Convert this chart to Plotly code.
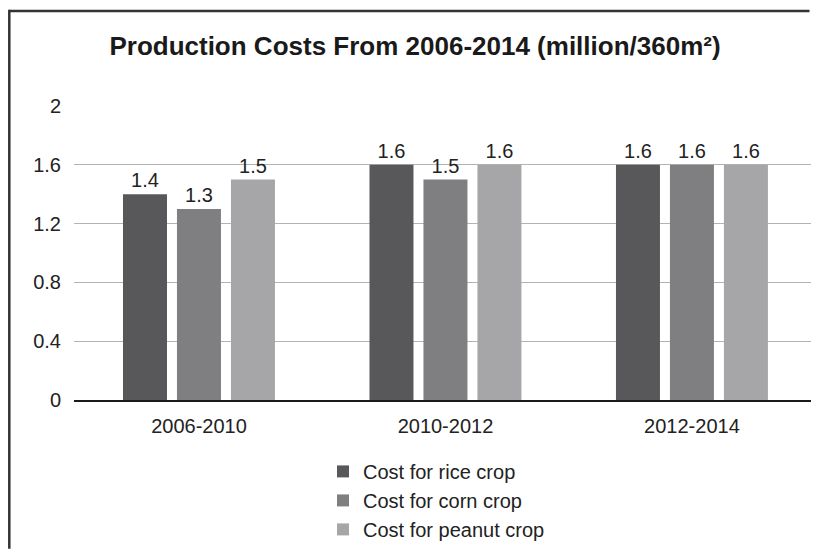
import plotly.graph_objects as go

categories = ["2006-2010", "2010-2012", "2012-2014"]
rice = [1.4, 1.6, 1.6]
corn = [1.3, 1.5, 1.6]
peanut = [1.5, 1.6, 1.6]
series_names = ["Cost for rice crop", "Cost for corn crop", "Cost for peanut crop"]
series_colors = ["#58585b", "#7f7f82", "#a6a6a9"]
y_ticks = [0, 0.4, 0.8, 1.2, 1.6, 2]
y_tick_labels = ["0", "0.4", "0.8", "1.2", "1.6", "2"]
title_text = "Production Costs From 2006-2014 (million/360m²)"

OFF = 8  # page body margin
W, H = 819 - 2 * OFF, 557 - 2 * OFF
# plot area in reference pixel coords
L, R, T, B = 74, 811, 105.5, 400
Lf, Rf, Tf, Bf = L - OFF, R - OFF, T - OFF, B - OFF
pw, ph = Rf - Lf, Bf - Tf

def px(x):
    return (x - OFF - Lf) / pw

def py(y):
    return (Bf - (y - OFF)) / ph

FONT = "Liberation Sans, Arial, sans-serif"
TXT = "#222222"
BORDER_COLOR = "#333333"

fig = go.Figure()
for name, vals, col in zip(series_names, [rice, corn, peanut], series_colors):
    fig.add_trace(go.Bar(
        name=name, x=categories, y=vals, marker=dict(color=col, line=dict(width=0)),
        text=[f"{v:g}" for v in vals], textposition="outside",
        textfont=dict(size=20, color=TXT, family=FONT), cliponaxis=False,
    ))

fig.update_layout(
    width=W, height=H,
    margin=dict(l=Lf, r=W - Rf, t=Tf, b=H - Bf, pad=0),
    paper_bgcolor="white", plot_bgcolor="white",
    barmode="group", bargap=0.343, bargroupgap=0.185,
    font=dict(family=FONT, size=20, color=TXT),
    title=dict(text=title_text, x=(415 - OFF) / W, xanchor="center",
               y=1 - (46 - OFF) / H, yanchor="middle",
               yref="container", xref="container",
               font=dict(size=26, family=FONT, color="#1a1a1a", weight="bold")),
    showlegend=True,
    legend=dict(orientation="v", x=px(323), xanchor="left", y=py(452), yanchor="top",
                font=dict(size=20, family=FONT, color=TXT), bgcolor="rgba(0,0,0,0)",
                itemwidth=30, tracegroupgap=0),
    xaxis=dict(range=[-0.507, 2.483], showline=True, linecolor="#1a1a1a", linewidth=2,
               showgrid=False, ticks="outside", ticklen=7, tickcolor="rgba(0,0,0,0)",
               tickfont=dict(size=20, color=TXT), fixedrange=True),
    yaxis=dict(range=[0, 2], tickvals=y_ticks, ticktext=y_tick_labels, showline=False,
               showgrid=True, gridcolor="#b3b3b3", gridwidth=1, zeroline=False,
               ticks="outside", ticklen=8, tickcolor="rgba(0,0,0,0)",
               tickfont=dict(size=20, color=TXT), fixedrange=True),
    shapes=[
        # left border
        dict(type="line", xref="paper", yref="paper",
             x0=px(9.3), x1=px(9.3), y0=py(9), y1=py(549),
             line=dict(color=BORDER_COLOR, width=2.5)),
    ],
    annotations=[
        # top border drawn as an arrow-less annotation line
        dict(xref="paper", yref="paper", x=px(8.1), y=py(10.3), text="",
             showarrow=True, arrowhead=0, arrowwidth=2.5, arrowcolor=BORDER_COLOR,
             axref="pixel", ayref="pixel", ax=805, ay=0, standoff=0, startstandoff=0),
    ],
)

fig.write_html("out.html", config={"displayModeBar": False})
